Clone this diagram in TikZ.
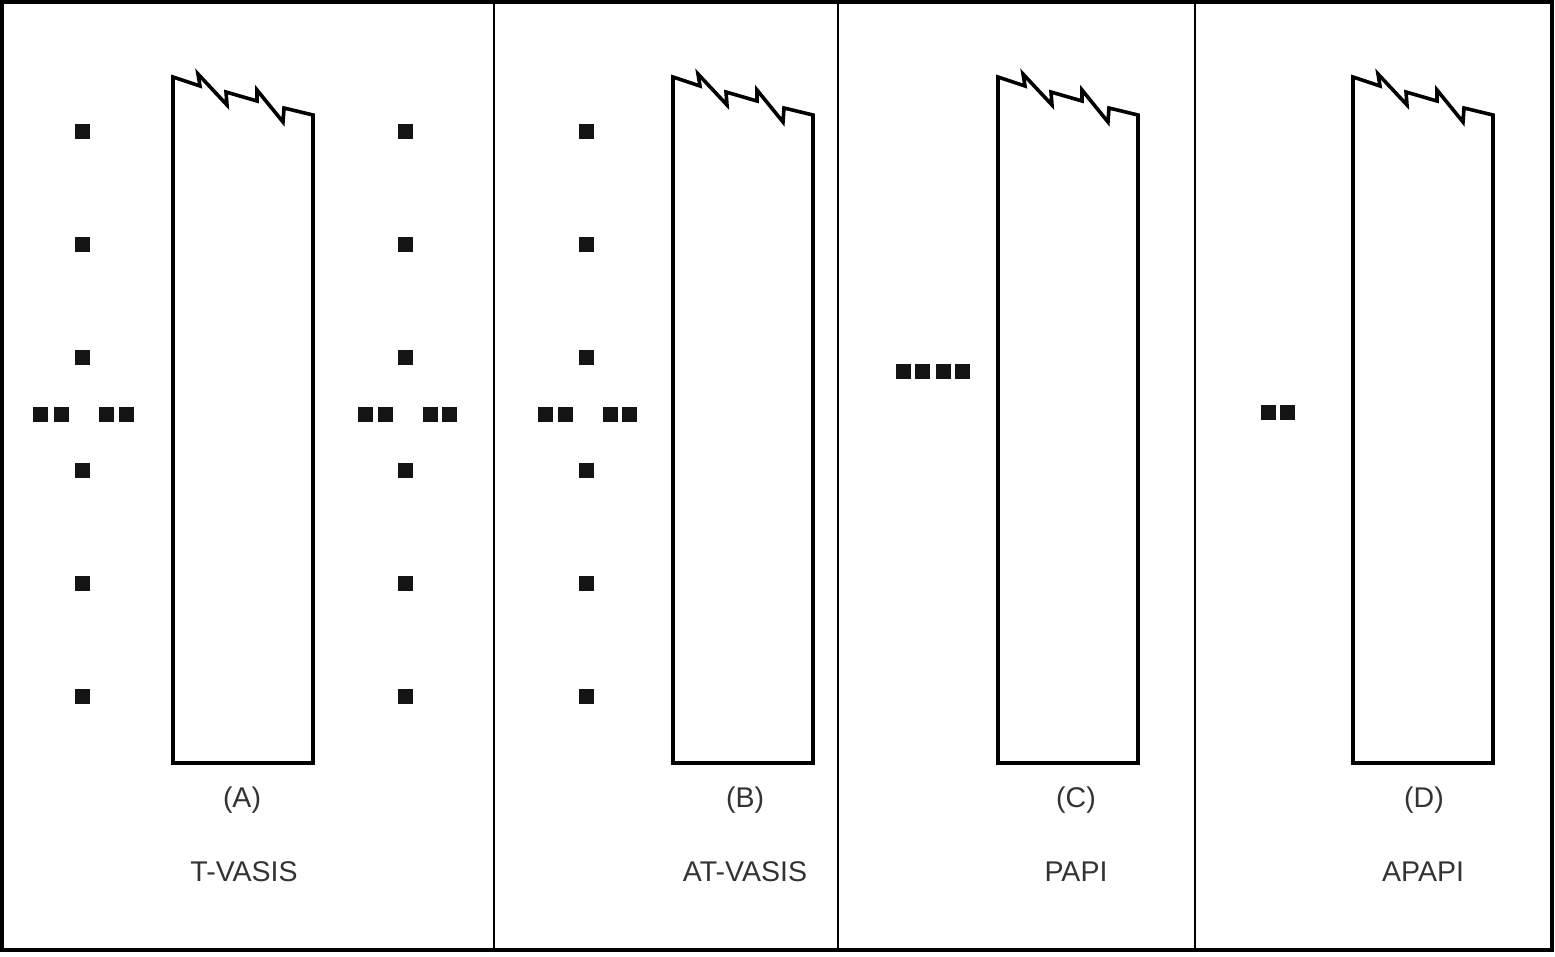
\documentclass[tikz,border=0pt]{standalone}
\usepackage{fontspec}
\setmainfont{Liberation Sans}
\begin{document}
\begin{tikzpicture}[x=1pt,y=-1pt,
  lamp/.style={fill=black!92,draw=none,minimum size=15pt,inner sep=0pt,outer sep=0pt},
  rwy/.style={line width=3.6pt,line join=miter},
  frame/.style={line width=3.4pt},
  lbl/.style={font=\fontsize{28.5}{32}\selectfont,text=black!80,inner sep=0pt}]
\useasboundingbox (0,0) rectangle (1555,956);
\draw[frame] (2,2) rectangle (1552,950);
\draw[frame,line width=2.6pt] (494,2) -- (494,950);
\draw[frame,line width=2.6pt] (838,2) -- (838,950);
\draw[frame,line width=2.6pt] (1195,2) -- (1195,950);
\newcommand{\runway}[1]{%
  \draw[rwy] (#1,763) -- (#1,77) -- ++(27,9) -- ++(-2,-12) -- ++(29,31) -- ++(-1,-13)
    -- ++(31,9) -- ++(0,-11) -- ++(26,32) -- ++(1,-14) -- ++(29,7) -- ++(0,648) -- cycle;}
\runway{173}
\runway{673}
\runway{998}
\runway{1353}
% T-VASIS left
\foreach \y/\n in {131/a1,244/a2,357/a3,470/a4,583/a5,696/a6}
  \node[lamp] (L\n) at (82,\y) {};
\foreach \x/\n in {40/1,61/2,106/3,126/4}
  \node[lamp] (LW\n) at (\x,414) {};
% T-VASIS right
\foreach \y/\n in {131/a1,244/a2,357/a3,470/a4,583/a5,696/a6}
  \node[lamp] (R\n) at (405,\y) {};
\foreach \x/\n in {365/1,385/2,430/3,449/4}
  \node[lamp] (RW\n) at (\x,414) {};
% AT-VASIS
\foreach \y/\n in {131/a1,244/a2,357/a3,470/a4,583/a5,696/a6}
  \node[lamp] (B\n) at (586,\y) {};
\foreach \x/\n in {545/1,565/2,610/3,629/4}
  \node[lamp] (BW\n) at (\x,414) {};
% PAPI
\foreach \x/\n in {903/1,922/2,943/3,962/4}
  \node[lamp] (P\n) at (\x,371) {};
% APAPI
\foreach \x/\n in {1268/1,1287/2}
  \node[lamp] (AP\n) at (\x,412) {};
% labels
\node[lbl] (la) at (242,800) {(A)};
\node[lbl] (ta) at (244,872) {T-VASIS};
\node[lbl] (lb) at (745,800) {(B)};
\node[lbl] (tb) at (745,872) {AT-VASIS};
\node[lbl] (lc) at (1076,800) {(C)};
\node[lbl] (tc) at (1076,872) {PAPI};
\node[lbl] (ld) at (1424,800) {(D)};
\node[lbl] (td) at (1423,872) {APAPI};
\end{tikzpicture}
\end{document}
